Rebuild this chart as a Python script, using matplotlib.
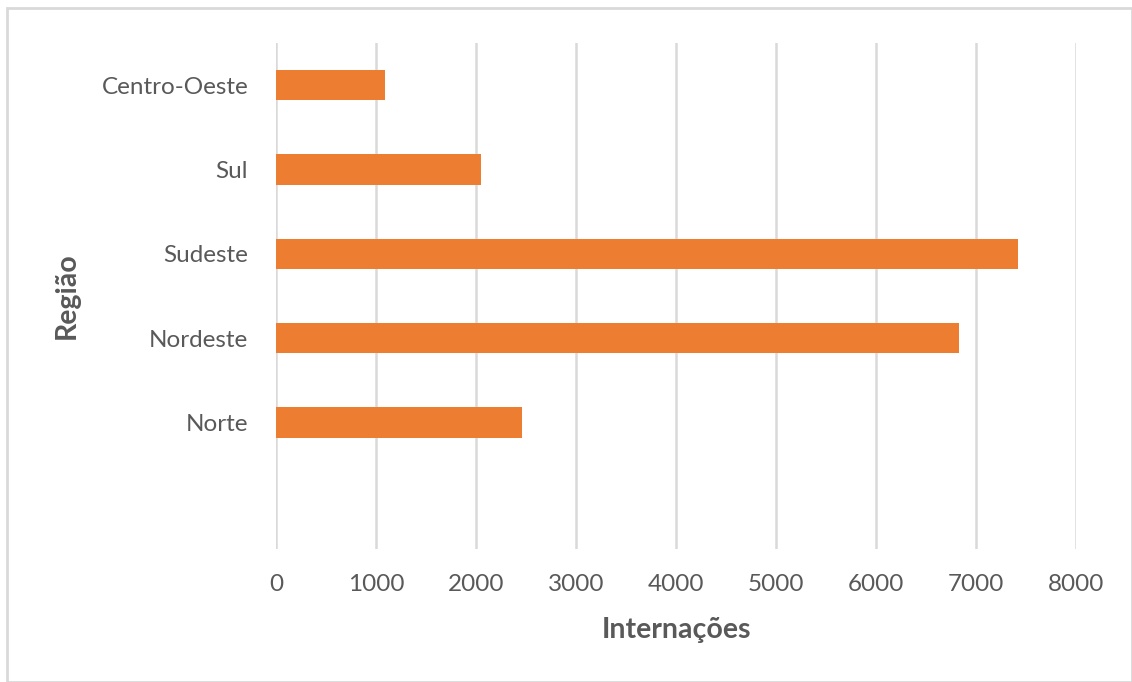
import matplotlib.pyplot as plt
from matplotlib.patches import Rectangle

# data (bottom slot is empty in the original)
regioes = ["", "Norte", "Nordeste", "Sudeste", "Sul", "Centro-Oeste"]
internacoes = [0, 2460, 6830, 7420, 2050, 1085]
xticks = [0, 1000, 2000, 3000, 4000, 5000, 6000, 7000, 8000]

plt.rcParams['font.family'] = ['Lato', 'DejaVu Sans']

fig = plt.figure(figsize=(11.32, 6.82), dpi=100)
ax = fig.add_axes([276/1132, 1 - 549/682, 800/1132, 506/682])

pos = list(range(len(regioes)))
ax.barh(pos, internacoes, height=0.356, color="#ED7D31", zorder=3)

ax.set_xlim(0, 8000)
ax.set_ylim(-0.5, len(regioes) - 0.5)
ax.set_xticks(xticks)
ax.set_xticklabels([str(t) for t in xticks])
ax.set_yticks(pos)
ax.set_yticklabels(regioes)
ax.tick_params(axis="both", length=0, labelsize=17.5, colors="#595959")
ax.tick_params(axis="x", pad=18)
ax.tick_params(axis="y", pad=20)

ax.grid(axis="x", color="#d9d9d9", linewidth=1.8, zorder=0)
for s in ax.spines.values():
    s.set_visible(False)

ax.set_xlabel("Internações", fontsize=20.5, fontweight="bold", color="#595959", labelpad=16)
ax.set_ylabel("Região", fontsize=20.5, fontweight="bold", color="#595959", labelpad=16)

# light frame around the chart area
fig.patches.append(Rectangle((7/1132, 0), 1 - 7/1132, 1 - 8/682, transform=fig.transFigure,
                             fill=False, edgecolor="#d9d9d9", linewidth=2))

fig.savefig("out.png", dpi=100)
